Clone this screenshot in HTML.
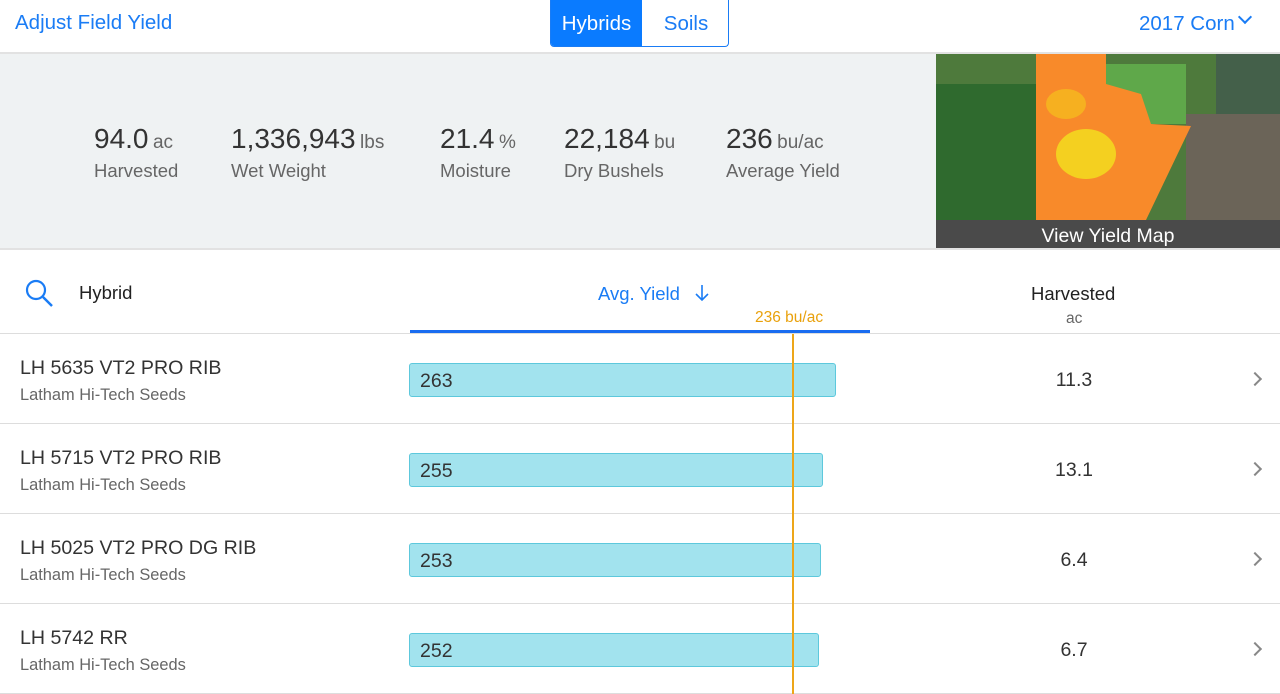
<!DOCTYPE html>
<html><head><meta charset="utf-8"><style>
*{margin:0;padding:0;box-sizing:border-box}
body{width:1280px;height:694px;overflow:hidden;background:#fff;font-family:"Liberation Sans",sans-serif;position:relative;color:#333}
.a{position:absolute;white-space:nowrap}
.blue{color:#1a7cf5}
.big{font-size:28px;color:#333}
.unit{font-size:19px;color:#666}
.lab{font-size:18.5px;color:#666}
.row{position:absolute;left:0;width:1280px;height:90px;border-bottom:1px solid #ddd}
.name{position:absolute;left:20px;top:23px;font-size:19.6px;color:#333}
.sub{position:absolute;left:20px;top:52px;font-size:16.4px;color:#666}
.bar{position:absolute;left:409px;top:29px;height:34px;background:#a2e3ee;border:1px solid #5dc8dc;border-radius:3px;font-size:19.5px;padding:6px 0 0 10px;color:#333}
.val{position:absolute;left:1040px;width:68px;text-align:center;top:35px;font-size:19.5px;color:#333}
.chev{position:absolute;left:1250px;top:40px;width:10px;height:10px;border-right:2px solid #888;border-top:2px solid #888;transform:rotate(45deg)}
</style></head><body>
<div class="a blue" style="left:15px;top:11px;font-size:20.5px">Adjust Field Yield</div>
<div class="a" style="left:550px;top:0;width:179px;height:47px;border:1px solid #1a7cf5;border-top:none;border-radius:0 0 4px 4px;overflow:hidden">
 <div style="position:absolute;left:0;top:0;width:91px;height:47px;background:#0a7bff;color:#fff;font-size:20.5px;text-align:center;line-height:47px">Hybrids</div>
 <div style="position:absolute;left:91px;top:0;width:88px;height:47px;color:#1a7cf5;font-size:20.5px;text-align:center;line-height:47px">Soils</div>
</div>
<div class="a blue" style="left:1139px;top:12px;font-size:20.5px">2017 Corn</div>
<div class="a" style="left:1240px;top:12px;width:10px;height:10px;border-right:2px solid #1a7cf5;border-bottom:2px solid #1a7cf5;transform:rotate(45deg)"></div>
<div class="a" style="left:0;top:52px;width:1280px;height:2px;background:#e2e2e2"></div>
<div class="a" style="left:0;top:54px;width:1280px;height:194px;background:#eff2f3"></div>
<div class="a" style="left:0;top:248px;width:1280px;height:2px;background:#e2e2e2"></div>
<div class="a" style="left:94px;top:123px"><span class="big">94.0</span> <span class="unit">ac</span></div>
<div class="a lab" style="left:94px;top:160px">Harvested</div>
<div class="a" style="left:231px;top:123px"><span class="big">1,336,943</span> <span class="unit">lbs</span></div>
<div class="a lab" style="left:231px;top:160px">Wet Weight</div>
<div class="a" style="left:440px;top:123px"><span class="big">21.4</span> <span class="unit">%</span></div>
<div class="a lab" style="left:440px;top:160px">Moisture</div>
<div class="a" style="left:564px;top:123px"><span class="big">22,184</span> <span class="unit">bu</span></div>
<div class="a lab" style="left:564px;top:160px">Dry Bushels</div>
<div class="a" style="left:726px;top:123px"><span class="big">236</span> <span class="unit">bu/ac</span></div>
<div class="a lab" style="left:726px;top:160px">Average Yield</div>
<svg class="a" style="left:936px;top:54px" width="344" height="194">
<rect width="344" height="194" fill="#4e7a3c"/>
<rect x="0" y="30" width="100" height="140" fill="#2f6a2e"/>
<rect x="170" y="10" width="80" height="60" fill="#5fa84a"/>
<rect x="250" y="60" width="94" height="110" fill="#6b6458"/>
<rect x="280" y="0" width="64" height="60" fill="#44604a"/>
<polygon points="100,0 170,0 170,30 205,40 215,70 255,72 210,166 100,166" fill="#f88a2a"/>
<ellipse cx="150" cy="100" rx="30" ry="25" fill="#f4d020"/>
<ellipse cx="130" cy="50" rx="20" ry="15" fill="#f6b020"/>
<rect x="0" y="166" width="344" height="28" fill="#4a4a4a"/>
<text x="172" y="188" font-size="19.5" fill="#fff" text-anchor="middle" font-family="Liberation Sans">View Yield Map</text>
</svg>
<svg class="a" style="left:24px;top:278px" width="30" height="30"><circle cx="12" cy="12" r="9" fill="none" stroke="#1a7cf5" stroke-width="2.2"/><line x1="19" y1="19" x2="28" y2="28" stroke="#1a7cf5" stroke-width="2.5"/></svg>
<div class="a" style="left:79px;top:282px;font-size:18.5px;color:#222">Hybrid</div>
<div class="a blue" style="left:598px;top:283px;font-size:18.5px">Avg. Yield</div>
<svg class="a" style="left:694px;top:284px" width="16" height="18"><line x1="8" y1="1" x2="8" y2="16" stroke="#1a7cf5" stroke-width="1.6"/><polyline points="2,10 8,16 14,10" fill="none" stroke="#1a7cf5" stroke-width="1.6"/></svg>
<div class="a" style="left:755px;top:309px;font-size:15.5px;color:#e9a10c">236 bu/ac</div>
<div class="a" style="left:1031px;top:283px;font-size:18.5px;color:#222">Harvested</div>
<div class="a" style="left:1066px;top:310px;font-size:15.5px;color:#666">ac</div>
<div class="a" style="left:410px;top:330px;width:460px;height:3px;background:#1a6cf0"></div>
<div class="a" style="left:0;top:333px;width:1280px;height:1px;background:#ddd"></div>
<div class="row" style="top:334px"><div class="name">LH 5635 VT2 PRO RIB</div><div class="sub">Latham Hi-Tech Seeds</div><div class="bar" style="width:427px">263</div><div class="val">11.3</div><div class="chev"></div></div>
<div class="row" style="top:424px"><div class="name">LH 5715 VT2 PRO RIB</div><div class="sub">Latham Hi-Tech Seeds</div><div class="bar" style="width:414px">255</div><div class="val">13.1</div><div class="chev"></div></div>
<div class="row" style="top:514px"><div class="name">LH 5025 VT2 PRO DG RIB</div><div class="sub">Latham Hi-Tech Seeds</div><div class="bar" style="width:412px">253</div><div class="val">6.4</div><div class="chev"></div></div>
<div class="row" style="top:604px"><div class="name">LH 5742 RR</div><div class="sub">Latham Hi-Tech Seeds</div><div class="bar" style="width:410px">252</div><div class="val">6.7</div><div class="chev"></div></div>
<div class="a" style="left:792px;top:334px;width:2px;height:360px;background:#eda619"></div>
</body></html>
